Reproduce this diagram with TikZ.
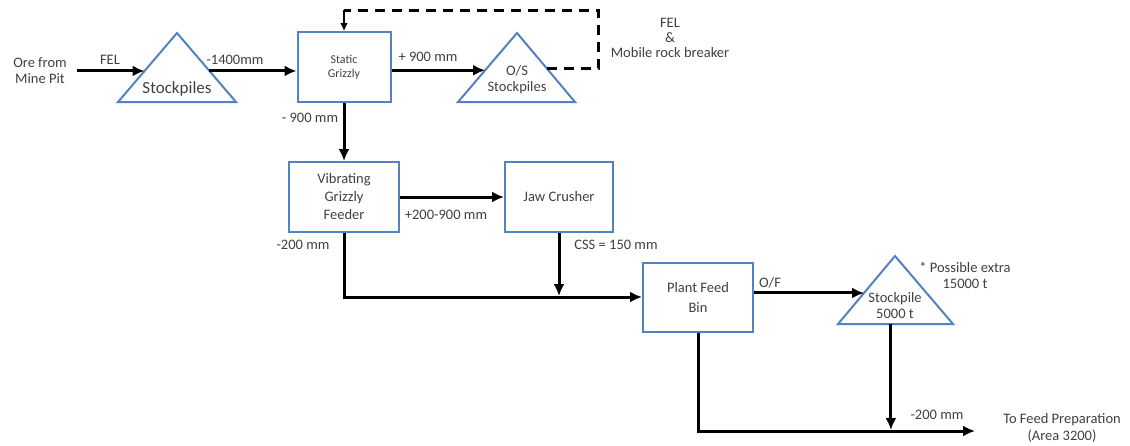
\documentclass[tikz,border=0pt]{standalone}
\usepackage{fontspec}
\setmainfont{Carlito}
\usetikzlibrary{arrows.meta,calc,positioning}
\definecolor{boxblue}{RGB}{84,130,190}
\definecolor{txtgray}{RGB}{64,64,64}
\tikzset{every node/.append style={transform shape=false}}

\begin{document}
\begin{tikzpicture}[x=1pt,y=-1pt,
    unit/.style={draw=boxblue,line width=2pt,minimum width=110pt,minimum height=70pt,
      align=center,text=txtgray,font=\fontsize{14.5}{18}\selectfont},
    pile/.style={draw=boxblue,line width=2pt,line join=miter},
    lbl/.style={text=txtgray,inner sep=0pt,align=center,font=\fontsize{14.5}{16}\selectfont},
    flow/.style={line width=3pt,-{Latex[length=12pt,width=11pt]}},
    recycle/.style={line width=3pt,dash pattern=on 10pt off 7pt}]
  \useasboundingbox (0,0) rectangle (1130,445);
  % feed and first stockpile
  \node[lbl] (ore) at (40,71) {Ore from\\Mine Pit};
  \coordinate (spA) at (177,33);
  \coordinate (spL) at (118,102);
  \coordinate (spR) at (236,102);
  \draw[pile] (spA) -- (spL) -- (spR) -- cycle;
  \node[lbl,font=\fontsize{17}{20}\selectfont] (sp) at (177,89) {Stockpiles};
  \coordinate (spin) at ($(spL)!0.45!(spA)$);
  \coordinate (spout) at ($(spR)!0.45!(spA)$);
  \draw[flow] ([xshift=10pt]ore.east |- spin) -- (spin);
  \node[lbl] (fel) at (110,60) {FEL};
  % static grizzly
  \node[unit,minimum width=93pt,font=\fontsize{12}{14}\selectfont] (sg) at (344,67) {Static\\Grizzly};
  \draw[flow] (spout) -- (spout -| sg.west);
  \node[lbl] (l1400) at (235,60) {-1400mm};
  % oversize stockpiles
  \coordinate (osA) at (517,33);
  \coordinate (osL) at (458,102);
  \coordinate (osR) at (575,102);
  \draw[pile] (osA) -- (osL) -- (osR) -- cycle;
  \node[lbl] (os) at (517,80) {O/S\\Stockpiles};
  \coordinate (osin) at ($(osL)!0.46!(osA)$);
  \coordinate (osout) at ($(osR)!0.49!(osA)$);
  \draw[flow] (sg.east |- osin) -- (osin);
  \node[lbl] (l900p) at (428,57) {+ 900 mm};
  \coordinate (rb) at (598,10);
  \draw[recycle] (osout) -- (osout -| rb) -- (rb) -- (rb -| sg.north);
  \draw[line width=1.8pt,-{Latex[length=8pt,width=8pt]}] (rb -| sg.north) -- (sg.north);
  \node[lbl,font=\fontsize{14.5}{15}\selectfont] (breaker) at (670,38) {FEL\\\&\\Mobile rock breaker};
  % vibrating grizzly feeder and jaw crusher
  \node[unit] (vgf) at (344,197) {Vibrating\\Grizzly\\Feeder};
  \draw[flow] (sg.south) -- (vgf.north);
  \node[lbl] (l900m) at (310,118) {- 900 mm};
  \node[unit,minimum width=108pt] (jc) at (559,197) {Jaw Crusher};
  \draw[flow] (vgf.east) -- (jc.west);
  \node[lbl] (l200p) at (446,215) {+200-900 mm};
  \node[lbl] (css) at (616,245) {CSS = 150 mm};
  \node[lbl] (l200a) at (303,245) {-200 mm};
  % plant feed bin
  \node[unit,minimum height=69pt,font=\fontsize{14.5}{20}\selectfont] (pfb) at (698,297) {Plant Feed\\Bin};
  \draw[flow] (vgf.south) |- (pfb.west);
  \draw[flow,shorten >=1pt] (jc.south) -- (jc.south |- pfb.west);
  % product stockpile
  \coordinate (stA) at (895,256);
  \coordinate (stL) at (838,324);
  \coordinate (stR) at (953,324);
  \draw[pile] (stA) -- (stL) -- (stR) -- cycle;
  \node[lbl] (st) at (895,306) {Stockpile\\5000 t};
  \coordinate (stin) at ($(stL)!0.456!(stA)$);
  \coordinate (stdown) at ($(stL)!0.46!(stR)$);
  \draw[flow] (pfb.east |- stin) -- (stin);
  \node[lbl] (of) at (770,283) {O/F};
  \node[lbl] (extra) at (965,275) {* Possible extra\\15000 t};
  % to feed preparation
  \coordinate (tofeed) at (975,431);
  \draw[flow] (pfb.south) |- (tofeed);
  \draw[flow,shorten >=1pt] (stdown) -- (stdown |- tofeed);
  \node[lbl] (l200b) at (937,415) {-200 mm};
  \node[lbl,font=\fontsize{14.5}{17}\selectfont] (prep) at (1062,428) {To Feed Preparation\\(Area 3200)};
\end{tikzpicture}
\end{document}
